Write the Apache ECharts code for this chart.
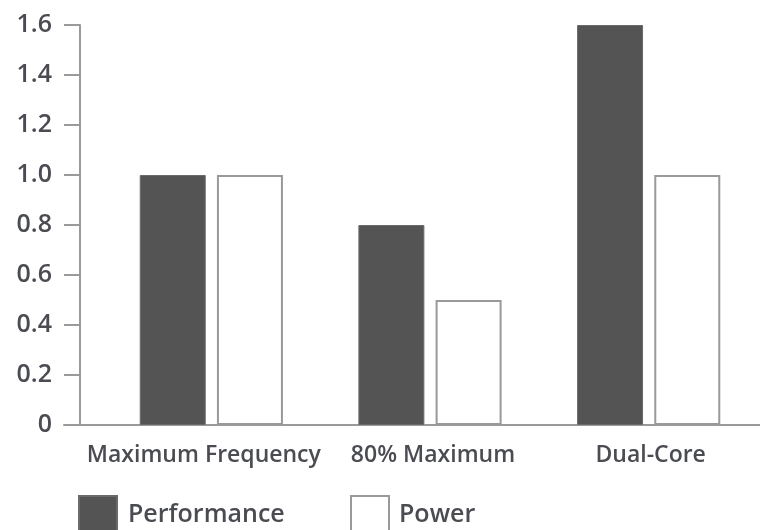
<!DOCTYPE html>
<html>
<head>
<meta charset="utf-8">
<script src="https://cdn.jsdelivr.net/npm/echarts@6/dist/echarts.min.js"></script>
<style>
html,body{margin:0;padding:0;background:#fff;}
#c{width:760px;height:530px;}
</style>
</head>
<body>
<div id="c"></div>
<script>
const categories = ['Maximum Frequency', '80% Maximum', 'Dual-Core'];
const performance = [1.0, 0.8, 1.6];
const power = [1.0, 0.5, 1.0];
const yTicks = { min: 0, max: 1.6, interval: 0.2 };

const FONT = '"Open Sans", sans-serif';
const TXT = '#4a4c52';
const AX = '#9a9a9a';
const W = 600;

const labelPads = [[0, 15, 0, 0], [0, 0, 0, 6], [0, 0, 0, 4]];

const chart = echarts.init(document.getElementById('c'), null, { renderer: 'canvas' });
chart.setOption({
  animation: false,
  backgroundColor: '#ffffff',
  grid: [
    { left: 102, right: 2, top: 25, bottom: 105 },
    { left: 64, right: 0, top: 25, bottom: 105 }
  ],
  legend: [
    {
      data: ['Performance'], left: 78, top: 495, padding: 0,
      itemWidth: 38, itemHeight: 38, icon: 'rect',
      textStyle: { fontFamily: FONT, fontWeight: W, fontSize: 25, color: TXT, padding: [0, 0, 0, 6] }
    },
    {
      data: ['Power'], left: 350, top: 495, padding: 0,
      itemWidth: 38, itemHeight: 38, icon: 'rect',
      textStyle: { fontFamily: FONT, fontWeight: W, fontSize: 25, color: TXT, padding: [0, 0, 0, 5] }
    }
  ],
  xAxis: [
    {
      type: 'category', gridIndex: 0,
      data: categories.map((c, i) => ({ value: c, textStyle: { padding: labelPads[i] } })),
      axisLine: { show: true, lineStyle: { color: AX, width: 2 } },
      axisTick: { show: false },
      axisLabel: { fontFamily: FONT, fontWeight: W, fontSize: 23, color: TXT, margin: 19, interval: 0 }
    },
    {
      type: 'value', gridIndex: 1, min: 0, max: 1,
      axisLine: { show: true, lineStyle: { color: AX, width: 2 } },
      axisTick: { show: false }, axisLabel: { show: false }, splitLine: { show: false }
    }
  ],
  yAxis: [
    {
      type: 'value', gridIndex: 0, min: yTicks.min, max: yTicks.max, interval: yTicks.interval,
      offset: 22,
      axisLine: { show: true, lineStyle: { color: AX, width: 2 } },
      axisTick: { show: true, length: 16, lineStyle: { color: AX, width: 2 } },
      splitLine: { show: false },
      axisLabel: {
        fontFamily: FONT, fontWeight: W, fontSize: 25, color: TXT, margin: 28,
        formatter: v => (v === 0 ? '0' : v.toFixed(1))
      }
    },
    { type: 'value', gridIndex: 1, min: 0, max: 1, show: false }
  ],
  series: [
    {
      name: 'Performance', type: 'bar', data: performance,
      xAxisIndex: 0, yAxisIndex: 0,
      barWidth: 66, barGap: '17%',
      itemStyle: { color: '#545454', borderColor: '#6a6a6a', borderWidth: 1 }
    },
    {
      name: 'Power', type: 'bar', data: power,
      xAxisIndex: 0, yAxisIndex: 0,
      barWidth: 66, barGap: '17%',
      itemStyle: { color: '#ffffff', borderColor: '#999999', borderWidth: 2 }
    }
  ]
});
</script>
</body>
</html>
